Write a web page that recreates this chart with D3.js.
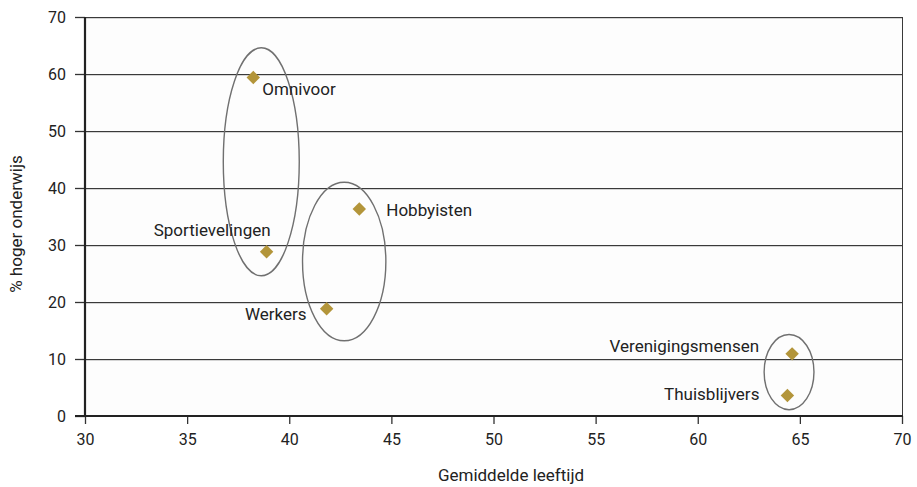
<!DOCTYPE html>
<html><head><meta charset="utf-8">
<script src="https://cdn.jsdelivr.net/npm/d3@7/dist/d3.min.js"></script>
<style>
body{margin:0;background:#fff;}
text{font-family:Roboto,"Open Sans",sans-serif;fill:#222;}
</style></head>
<body><svg id="c" width="917" height="487"></svg>
<script>
const groups = ["Omnivoor","Sportievelingen","Hobbyisten","Werkers","Verenigingsmensen","Thuisblijvers"];
const age = [38.24, 38.89, 43.43, 41.83, 64.62, 64.39];
const higherEdu = [59.4, 28.8, 36.3, 18.8, 10.9, 3.6];
const xTicks = [30,35,40,45,50,55,60,65,70];
const yTicks = [0,10,20,30,40,50,60,70];
// cluster ellipses: centre (age, %), radii (age, %)
const ellCx = [38.63, 42.69, 64.47];
const ellCy = [44.6, 27.1, 7.7];
const ellRx = [1.86, 2.04, 1.22];
const ellRy = [20.0, 13.9, 6.6];

const svg = d3.select("#c");
const L=85, R=902, T=17, B=416;
const x = d3.scaleLinear().domain([30,70]).range([L,R]);
const y = d3.scaleLinear().domain([0,70]).range([B,T]);

svg.append("rect").attr("x",L).attr("y",T).attr("width",R-L).attr("height",B-T).attr("fill","#fdfdfd");

// gridlines
const g = svg.append("g");
yTicks.filter(d=>d>0).forEach(d=>{
  g.append("line").attr("x1",L).attr("x2",R).attr("y1",y(d)+1.5).attr("y2",y(d)+1.5).attr("stroke","#d4d4d4").attr("stroke-width",1);
  g.append("line").attr("x1",L).attr("x2",R).attr("y1",y(d)+0.5).attr("y2",y(d)+0.5).attr("stroke","#3a3a3a").attr("stroke-width",1);
});
// right border
svg.append("line").attr("x1",R+0.5).attr("x2",R+0.5).attr("y1",T).attr("y2",B).attr("stroke","#3a3a3a");

// axes
const yAxis = d3.axisLeft(y).tickValues(yTicks).tickSize(10).tickPadding(9).tickFormat(d3.format("d"));
const ya = svg.append("g").attr("transform",`translate(${L},0)`).call(yAxis);
const xAxis = d3.axisBottom(x).tickValues(xTicks).tickSize(8).tickPadding(10).tickFormat(d3.format("d"));
const xa = svg.append("g").attr("transform",`translate(0,${B})`).call(xAxis);
[ya,xa].forEach(a=>{
  a.select(".domain").remove();
  a.selectAll(".tick line").attr("stroke","#333").attr("stroke-width",1.3);
  a.selectAll("text").attr("font-size",16).attr("fill","#222").style("font-family","Roboto");
});
ya.selectAll("text").attr("dy","0.36em");
svg.append("line").attr("x1",L).attr("x2",L).attr("y1",T).attr("y2",B+1).attr("stroke","#222").attr("stroke-width",2.2);
svg.append("line").attr("x1",L-10).attr("x2",R+1).attr("y1",B).attr("y2",B).attr("stroke","#222").attr("stroke-width",2.2);

// ellipses
ellCx.forEach((cx,i)=>{
  svg.append("ellipse").attr("cx",x(cx)).attr("cy",y(ellCy[i]))
    .attr("rx",x(cx+ellRx[i])-x(cx)).attr("ry",y(0)-y(ellRy[i]))
    .attr("fill","none").attr("stroke","#707070").attr("stroke-width",1.4);
});

// points
const sym = d3.symbol().type(d3.symbolDiamond2).size(115);
groups.forEach((n,i)=>{
  svg.append("path").attr("d",sym()).attr("transform",`translate(${x(age[i])},${y(higherEdu[i])})`)
    .attr("fill","#b3953a");
});
// labels
const lab = svg.append("g").attr("font-size",17);
groups.forEach((n,i)=>{
  const px=x(age[i]), py=y(higherEdu[i]);
  let tx, ty, anchor;
  if(n==="Omnivoor"){tx=px+9;ty=py+18;anchor="start";}
  else if(n==="Sportievelingen"){tx=px+4;ty=py-16;anchor="end";}
  else if(n==="Hobbyisten"){tx=px+27;ty=py+7;anchor="start";}
  else if(n==="Werkers"){tx=px-20;ty=py+11;anchor="end";}
  else if(n==="Verenigingsmensen"){tx=px-33;ty=py-2;anchor="end";}
  else {tx=px-28;ty=py+5;anchor="end";}
  lab.append("text").attr("x",tx).attr("y",ty).attr("text-anchor",anchor).text(n);
});

// axis titles
svg.append("text").attr("x",511).attr("y",481).attr("text-anchor","middle").attr("font-size",17).text("Gemiddelde leeftijd");
svg.append("text").attr("transform","translate(22,224) rotate(-90)").attr("text-anchor","middle").attr("font-size",17).text("% hoger onderwijs");
</script></body></html>
